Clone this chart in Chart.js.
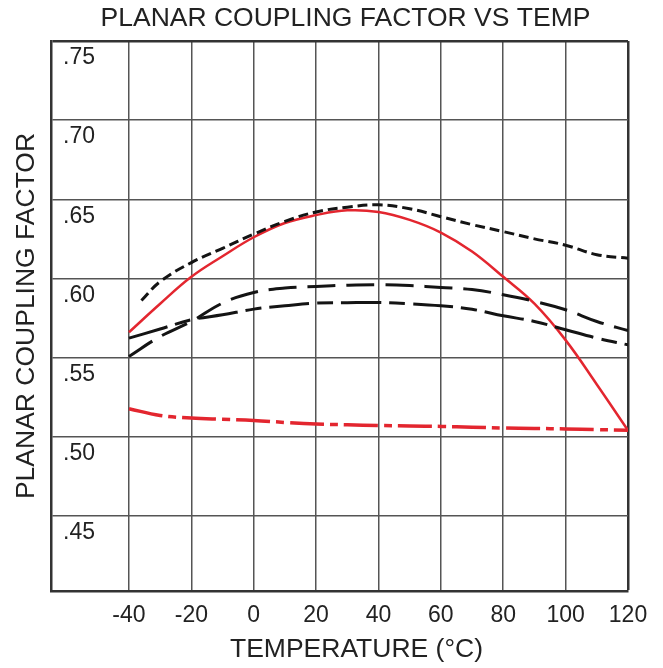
<!DOCTYPE html>
<html>
<head>
<meta charset="utf-8">
<title>Planar Coupling Factor vs Temp</title>
<script src="https://cdn.jsdelivr.net/npm/chart.js@4/dist/chart.umd.min.js"></script>
<style>
  html, body { margin: 0; padding: 0; background: #fff; }
  #wrap { width: 663px; height: 668px; position: relative; }
</style>
</head>
<body>
<div id="wrap"><canvas id="couplingChart"></canvas></div>
<script>
// Data
const temps = [-40, -30, -20, -10, 0, 10, 20, 30, 40, 50, 60, 70, 80, 90, 100, 110, 120];
const tempsShort = [-36, -30, -20, -10, 0, 10, 20, 30, 40, 50, 60, 70, 80, 90, 100, 110, 120];

const redSolid = [0.566, 0.584, 0.601, 0.614, 0.626, 0.635, 0.640, 0.643, 0.642, 0.637, 0.629, 0.617, 0.601, 0.584, 0.561, 0.533, 0.504];
const redDashDot = [0.5177, 0.5134, 0.5118, 0.511, 0.5103, 0.509, 0.508, 0.5075, 0.5071, 0.5068, 0.5065, 0.506, 0.5055, 0.5052, 0.5049, 0.5045, 0.504];
const blackShortDash = [0.586, 0.598, 0.610, 0.619, 0.628, 0.636, 0.642, 0.645, 0.6465, 0.644, 0.639, 0.634, 0.6296, 0.625, 0.621, 0.615, 0.6128];
const blackLongDash = [0.5507, 0.5633, 0.5728, 0.5844, 0.5911, 0.5939, 0.5949, 0.5957, 0.596, 0.5955, 0.5943, 0.593, 0.5897, 0.5855, 0.5802, 0.5728, 0.567];
const blackLongShort = [0.5623, 0.568, 0.5739, 0.577, 0.5806, 0.5827, 0.5844, 0.5847, 0.5848, 0.584, 0.5827, 0.5805, 0.5764, 0.5728, 0.5676, 0.5623, 0.558];

const xTicks = [-40, -20, 0, 20, 40, 60, 80, 100, 120];
const yTicks = [0.45, 0.50, 0.55, 0.60, 0.65, 0.70, 0.75];

const chartTitle = "PLANAR COUPLING FACTOR VS TEMP";
const xTitle = "TEMPERATURE (°C)";
const yTitle = "PLANAR COUPLING FACTOR";

const RED = "#e3262f";
const INK = "#141414";
const FONT = "Arial, 'Liberation Sans', Helvetica, sans-serif";

const pts = (xs, ys) => xs.map((x, i) => ({ x: x, y: ys[i] }));

const lineStyle = (color, width, dash) => ({
  borderColor: color,
  borderWidth: width,
  borderDash: dash,
  pointRadius: 0,
  fill: false,
  tension: 0.4,
  borderCapStyle: "butt",
});

// main title and x title sit a little right of the plot centre in the original
const outerTitles = {
  id: "outerTitles",
  afterDraw(chart) {
    const { ctx, chartArea } = chart;
    const mid = (chartArea.left + chartArea.right) / 2;
    ctx.save();
    ctx.fillStyle = "#222";
    ctx.textAlign = "center";
    ctx.textBaseline = "middle";
    ctx.font = "26.5px " + FONT;
    ctx.fillText(chartTitle, mid + 6, 19);
    ctx.fillText(xTitle, mid + 17, chartArea.bottom + 59);
    ctx.restore();
  },
};

const ctx = document.getElementById("couplingChart").getContext("2d");
new Chart(ctx, {
  type: "line",
  data: {
    datasets: [
      { label: "short dash", data: pts(tempsShort, blackShortDash), ...lineStyle(INK, 3, [10, 5]) },
      { label: "long dash", data: pts(temps, blackLongDash), ...lineStyle(INK, 3, [28, 11]) },
      { label: "long short dash", data: pts(temps, blackLongShort), ...lineStyle(INK, 3, [40, 8, 16, 8]) },
      { label: "red solid", data: pts(temps, redSolid), ...lineStyle(RED, 2.5, []) },
      { label: "red dash dot", data: pts(temps, redDashDot), ...lineStyle(RED, 3.5, [34, 6, 8, 6]) },
    ],
  },
  options: {
    responsive: true,
    maintainAspectRatio: false,
    animation: false,
    layout: { padding: { left: 7, right: 35, top: 41, bottom: 27.4 } },
    plugins: {
      legend: { display: false },
      tooltip: { enabled: false },
      title: { display: false },
    },
    scales: {
      x: {
        type: "linear",
        min: -65,
        max: 120,
        afterBuildTicks: (scale) => {
          scale.ticks = xTicks.map((v) => ({ value: v }));
        },
        grid: {
          drawTicks: false,
          color: (c) => (c.tick && c.tick.value === 120 ? "#333" : "#555"),
          lineWidth: (c) => (c.tick && c.tick.value === 120 ? 2.5 : 1.5),
        },
        border: { display: true, color: "#333", width: 2.5 },
        ticks: {
          color: "#222",
          padding: 11,
          maxRotation: 0,
          autoSkip: false,
          font: { family: FONT, size: 23 },
          callback: (v) => String(v),
        },
      },
      y: {
        min: 0.4025,
        max: 0.75,
        afterBuildTicks: (scale) => {
          scale.ticks = yTicks.map((v) => ({ value: v }));
        },
        grid: {
          drawTicks: false,
          color: (c) => (c.tick && c.tick.value === 0.75 ? "#333" : "#555"),
          lineWidth: (c) => (c.tick && c.tick.value === 0.75 ? 2.5 : 1.5),
        },
        border: { display: true, color: "#333", width: 2.5 },
        ticks: {
          mirror: true,
          padding: 12,
          labelOffset: 17,
          color: "#222",
          autoSkip: false,
          font: { family: FONT, size: 23 },
          callback: (v) => v.toFixed(2).replace(/^0/, ""),
        },
        title: {
          display: true,
          text: yTitle,
          color: "#222",
          font: { family: FONT, size: 26.5, lineHeight: 1 },
          // tick padding is counted twice in the axis width, so trim here
          padding: { top: 6, bottom: -12.5 },
        },
      },
    },
  },
  plugins: [outerTitles],
});
</script>
</body>
</html>
